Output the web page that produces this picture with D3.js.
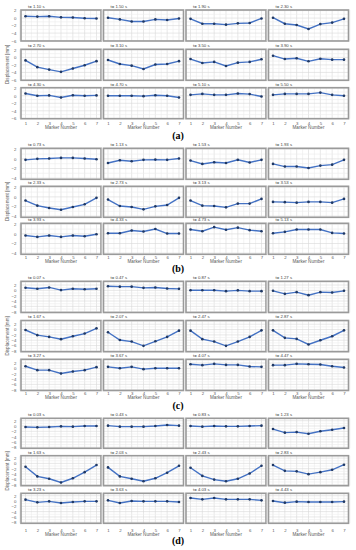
<!DOCTYPE html>
<html><head><meta charset="utf-8">
<script src="https://cdn.jsdelivr.net/npm/d3@7"></script>
<style>body{margin:0;background:#fff}svg{display:block}</style>
</head><body>
<script>
const markers = [1,2,3,4,5,6,7];

const timesA = ["1.10","1.50","1.90","2.30","2.70","3.10","3.50","3.90","4.30","4.70","5.10","5.50"];
const dispA = [
  [0.5,0.4,0.5,0.2,0.15,-0.05,-0.1],
  [0.1,-0.35,-0.9,-0.9,-0.35,-0.5,-0.1],
  [-0.2,-1.5,-1.5,-1.75,-1.4,-1.3,-0.1],
  [0.1,-1.5,-1.85,-2.9,-1.6,-1.2,-0.2],
  [-0.8,-2.6,-3.25,-3.85,-2.95,-2.1,-1.0],
  [-0.7,-1.75,-2.2,-3.1,-1.9,-1.75,-1.0],
  [-0.45,-1.5,-1.2,-2.3,-1.4,-1.2,-0.5],
  [0.45,-0.45,-0.25,-1.05,-0.35,-0.6,-0.6],
  [0.6,0.0,0.1,-0.45,0.15,0.0,0.1],
  [0.0,0.0,0.0,-0.1,0.15,0.0,-0.45],
  [0.25,0.5,0.25,0.25,0.6,0.45,-0.2],
  [0.25,0.5,0.5,0.5,0.85,0.25,0.0]
];
const ticksA = [2,0,-2,-4,-6];

const timesB = ["0.73","1.13","1.53","1.93","2.33","2.73","3.13","3.53","3.93","4.33","4.73","5.13"];
const dispB = [
  [-0.2,0.0,0.07,0.2,0.2,0.07,-0.07],
  [-0.85,-0.3,-0.5,-0.2,-0.15,-0.2,0.07],
  [-0.35,-1.05,-0.7,-0.85,-0.2,-0.75,-0.2],
  [-1.05,-1.6,-1.6,-1.9,-1.4,-1.2,-0.2],
  [-0.77,-1.83,-2.32,-2.68,-2.11,-1.55,-0.2],
  [-0.56,-1.9,-2.1,-2.6,-1.97,-1.7,-0.2],
  [-0.77,-1.83,-1.9,-2.18,-1.4,-1.4,-0.42],
  [-1.05,-1.1,-1.2,-1.05,-1.05,-1.2,-0.42],
  [-0.35,-0.63,-0.35,-0.63,-0.35,-0.5,-0.07],
  [0.14,0.14,0.7,0.5,1.0,0.07,0.07],
  [0.9,0.56,1.4,0.85,1.3,0.77,0.56],
  [0.14,0.42,0.9,0.9,0.9,0.2,0.07]
];
const ticksB = [2,0,-2,-4];

const timesC = ["0.07","0.47","0.87","1.27","1.67","2.07","2.47","2.87","3.27","3.67","4.07","4.47"];
const dispC = [
  [1.0,0.6,1.1,0.1,0.6,0.4,0.6],
  [1.55,1.4,1.4,0.95,1.05,0.7,0.57],
  [0.07,0.07,0.07,-0.3,0.0,-0.3,-0.3],
  [-0.17,-1.3,-0.67,-1.8,-0.67,-0.8,-0.17],
  [-0.16,-2.1,-2.75,-3.6,-2.5,-1.5,0.45],
  [-1.0,-3.9,-4.5,-6.1,-4.4,-2.75,-0.4],
  [-0.4,-3.6,-4.5,-6.1,-4.5,-2.75,-0.3],
  [-0.3,-3.1,-3.5,-5.6,-4.0,-2.5,-0.3],
  [0.8,-0.67,-0.67,-1.9,-1.16,-0.67,0.45],
  [0.57,0.07,0.57,-0.3,0.07,0.07,0.07],
  [1.55,1.2,1.7,1.3,1.3,0.7,0.57],
  [1.2,1.2,1.7,1.55,1.45,0.8,0.3]
];
const ticksC = [2,0,-2,-4,-6,-8];

const timesD = ["0.03","0.43","0.83","1.23","1.63","2.03","2.43","2.83","3.23","3.63","4.03","4.43"];
const dispD = [
  [-0.4,-0.5,-0.4,-0.13,-0.25,0.0,0.0],
  [0.13,-0.25,-0.25,-0.25,0.0,0.4,0.13],
  [0.0,-0.25,0.0,-0.13,-0.13,0.0,0.13],
  [-1.15,-2.5,-2.3,-2.9,-2.0,-1.4,-0.75],
  [-1.27,-4.9,-5.8,-7.2,-5.6,-3.3,-0.63],
  [-1.5,-4.9,-5.8,-6.7,-5.6,-3.5,-0.9],
  [-1.65,-4.7,-6.1,-6.7,-5.8,-3.8,-0.9],
  [-0.63,-2.8,-3.0,-4.05,-3.3,-2.4,-0.5],
  [0.5,-0.5,-0.13,-0.76,-0.38,-0.13,-0.13],
  [0.25,-0.76,0.0,-0.13,-0.13,-0.13,-0.38],
  [1.15,0.63,1.15,0.63,0.63,0.63,0.25],
  [0.0,-0.63,-0.25,-0.38,-0.38,-0.38,-0.25]
];
const ticksD = [2,0,-2,-4,-6,-8];

const panelLabels = ["(a)","(b)","(c)","(d)"];
const xTitle = "Marker Number";
const yTitle = "Displacement [mm]";

// ---- layout ----
const W = 356, H = 550;
const svg = d3.select("body").append("svg").attr("width", W).attr("height", H);
const colLefts = [21, 103.5, 186, 268.5];
const colW = 80;
const panels = [
  {times: timesA, disp: dispA, ticks: ticksA, domain: [-6.1, 2.15], tops: [10, 49.3, 87.7], h: 31, xl: 125.5, lab: 139},
  {times: timesB, disp: dispB, ticks: ticksB, domain: [-4.25, 2.2], tops: [148.3, 186.3, 223.3], h: 31, xl: 259.5, lab: 272},
  {times: timesC, disp: dispC, ticks: ticksC, domain: [-8.3, 3.4], tops: [281.3, 320.5, 359.3], h: 31.2, xl: 396, lab: 409},
  {times: timesD, disp: dispD, ticks: ticksD, domain: [-8.4, 2.9], tops: [418.3, 455.7, 493.3], h: 30, xl: 533, lab: 544}
];
const font = "'Liberation Sans', Arial, sans-serif";

panels.forEach((p, pi) => {
  for (let r = 0; r < 3; r++) {
    for (let c = 0; c < 4; c++) {
      const k = r * 4 + c;
      const x0 = colLefts[c], y0 = p.tops[r];
      const x = d3.scaleLinear().domain([1, 7]).range([x0 + 4.5, x0 + colW - 4.5]);
      const y = d3.scaleLinear().domain(p.domain).range([y0 + p.h, y0]);
      const g = svg.append("g");
      // grid
      const halfs = d3.range(0.5, 7.51, 0.5);
      g.selectAll(".vg").data(halfs).join("line")
        .attr("x1", d => x(d)).attr("x2", d => x(d))
        .attr("y1", y0).attr("y2", y0 + p.h)
        .attr("stroke", d => Number.isInteger(d) ? "#d9d9d9" : "#ececec").attr("stroke-width", 0.6);
      const yMinor = d3.range(Math.ceil(p.domain[0]), Math.floor(p.domain[1]) + 1, 1);
      g.selectAll(".hg").data(yMinor).join("line")
        .attr("x1", x0).attr("x2", x0 + colW)
        .attr("y1", d => y(d)).attr("y2", d => y(d))
        .attr("stroke", d => d % 2 === 0 ? "#d9d9d9" : "#ececec").attr("stroke-width", 0.6);
      // box
      g.append("rect").attr("x", x0).attr("y", y0).attr("width", colW).attr("height", p.h)
        .attr("fill", "none").attr("stroke", "#9a9a9a").attr("stroke-width", 1.6);
      // title
      g.append("text").attr("x", x0 + 7).attr("y", y0 - 2.2)
        .attr("font-family", font).attr("font-size", 4.3).attr("fill", "#404040")
        .text("t= " + p.times[k] + " s");
      // line
      const vals = p.disp[k];
      const line = d3.line().x((d, i) => x(markers[i])).y(d => y(d));
      g.append("path").datum(vals).attr("d", line)
        .attr("fill", "none").attr("stroke", "#4472c4").attr("stroke-width", 1.4);
      g.selectAll(".pt").data(vals).join("circle")
        .attr("cx", (d, i) => x(markers[i])).attr("cy", d => y(d)).attr("r", 1.3)
        .attr("fill", "#1f3864");
      // y axis ticks on first column
      if (c === 0) {
        const ya = d3.axisLeft(y).tickValues(p.ticks).tickFormat(d3.format("d")).tickSize(0).tickPadding(4.5);
        const ag = g.append("g").attr("transform", `translate(${x0},0)`).call(ya);
        ag.select(".domain").remove();
        ag.selectAll("text").attr("font-family", font).attr("font-size", 4.3).attr("fill", "#595959");
      }
      // x axis on bottom row
      if (r === 2) {
        const xa = d3.axisBottom(x).tickValues(markers).tickFormat(d3.format("d")).tickSize(0).tickPadding(0);
        const ag = g.append("g").attr("transform", `translate(0,${p.xl - 4})`).call(xa);
        ag.select(".domain").remove();
        ag.selectAll("text").attr("font-family", font).attr("font-size", 4.3).attr("fill", "#595959");
        g.append("text").attr("x", x0 + colW / 2).attr("y", p.xl + 3)
          .attr("text-anchor", "middle").attr("font-family", font).attr("font-size", 4.6)
          .attr("fill", "#595959").text(xTitle);
      }
    }
  }
  // y title
  const cy = (p.tops[0] + p.tops[2] + p.h) / 2;
  svg.append("text").attr("transform", `translate(8.5,${cy}) rotate(-90)`)
    .attr("text-anchor", "middle").attr("font-family", font).attr("font-size", 4.6)
    .attr("fill", "#595959").text(yTitle);
  // panel label
  svg.append("text").attr("x", 178).attr("y", p.lab).attr("text-anchor", "middle")
    .attr("font-family", "'Liberation Serif', 'Times New Roman', serif").attr("font-size", 10)
    .attr("font-weight", "bold").attr("fill", "#000").text(panelLabels[pi]);
});
</script>
</body></html>
